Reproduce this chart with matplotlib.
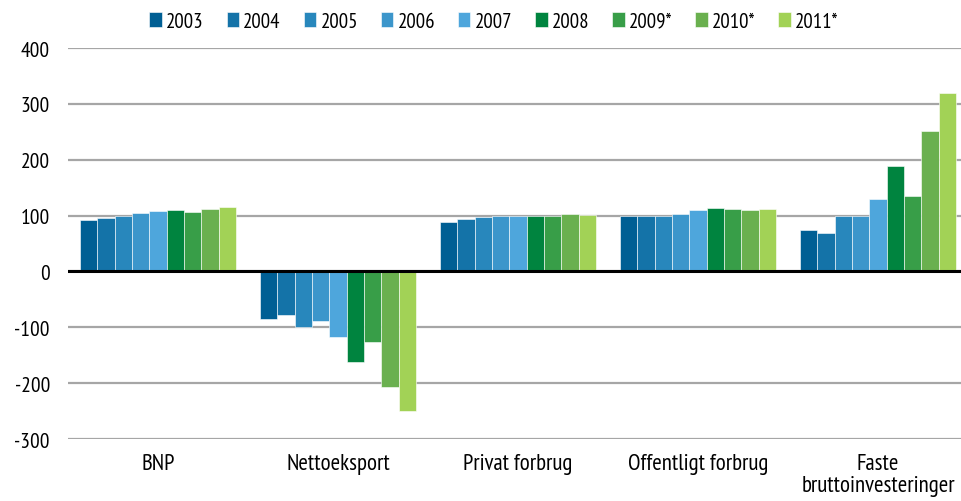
import matplotlib.pyplot as plt
import numpy as np

plt.rcParams["font.family"] = ["PT Sans Narrow", "DejaVu Sans"]
plt.rcParams["axes.unicode_minus"] = False

categories = ["BNP", "Nettoeksport", "Privat forbrug", "Offentligt forbrug",
              "Faste\nbruttoinvesteringer"]
years = ["2003", "2004", "2005", "2006", "2007", "2008", "2009*", "2010*", "2011*"]
colors = ["#005f94", "#1473a8", "#2887bc", "#3c96cb", "#4ea6dc",
          "#00843f", "#389e48", "#6ab04f", "#a2d256"]

# one list per year: BNP, Nettoeksport, Privat, Offentligt, Faste
v2003 = [92, -85, 88, 99, 75]
v2004 = [95, -78, 94, 99, 69]
v2005 = [99, -100, 98, 99, 99]
v2006 = [105, -88, 99, 102, 99]
v2007 = [108, -117, 100, 110, 130]
v2008 = [110, -162, 99, 113, 189]
v2009 = [107, -127, 100, 111, 135]
v2010 = [112, -207, 102, 110, 251]
v2011 = [115, -250, 101, 111, 320]
series = [v2003, v2004, v2005, v2006, v2007, v2008, v2009, v2010, v2011]

fig = plt.figure(figsize=(9.62, 5.02), dpi=100)
ax = fig.add_axes([68 / 962, 1 - 440 / 502, 894 / 962, 391 / 502])

x = np.arange(len(categories))
w = 0.0963
for i, (vals, c, lab) in enumerate(zip(series, colors, years)):
    ax.bar(x + (i - 4) * w, vals, w, color=c, label=lab,
           edgecolor="#ffffff", linewidth=0.4, zorder=3)

ax.set_ylim(-300, 400)
ax.set_yticks(range(-300, 401, 100))
ax.set_xlim(-0.5, 4.5 - 6 / 180)
ax.set_xticks(x)
ax.set_xticklabels(categories)
ax.grid(axis="y", color="#a6a6a6", linewidth=1.6, zorder=0)
ax.axhline(0, color="black", linewidth=2.2, zorder=4)
for s in ax.spines.values():
    s.set_visible(False)
ax.tick_params(axis="y", length=0, pad=13, labelsize=15.5)
ax.tick_params(axis="x", length=0, pad=10, labelsize=16.5)
for t in ax.get_xticklabels():
    t.set_verticalalignment("top")
    t.set_linespacing(1.05)

ax.legend(loc="center", bbox_to_anchor=(494 / 962, 1 - 22 / 502),
          bbox_transform=fig.transFigure, ncol=9, frameon=False,
          fontsize=15, handlelength=0.6, handleheight=0.75,
          handletextpad=0.2, columnspacing=1.1)

fig.savefig("out.png", dpi=100)
